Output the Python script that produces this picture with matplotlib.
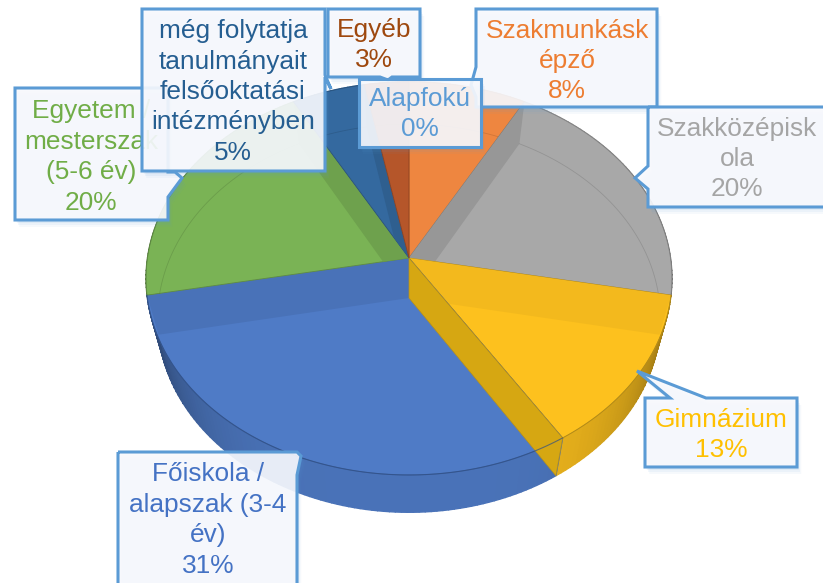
import math
import numpy as np
import matplotlib
matplotlib.use("Agg")
import matplotlib.pyplot as plt
from matplotlib.colors import to_rgb
from matplotlib.patches import Polygon

plt.rcParams['font.family'] = ['Liberation Sans', 'DejaVu Sans']

# Data, clockwise from 12 o'clock
categories = ["Alapfokú", "Szakmunkásk\népző", "Szakközépisk\nola", "Gimnázium",
              "Főiskola /\nalapszak (3-4\név)", "Egyetem /\nmesterszak\n(5-6 év)",
              "még folytatja\ntanulmányait\nfelsőoktatási\nintézményben", "Egyéb"]
values = [0, 8, 20, 13, 31, 20, 5, 3]

face_colors = ["#5B9BD5", "#EE8640", "#A8A8A8", "#FDC11E", "#4F7BC6", "#7AB355", "#34699F", "#B5562A"]
label_colors = ["#5B9BD5", "#ED7D31", "#A5A5A5", "#FFC000", "#4472C4", "#70AD47", "#255E91", "#9E480E"]

# Perspective disc for the upper and lower rim of the pie: centre x, centre y, rx, ry
UPPER = (409, 258, 261.5, 194.4)
LOWER = (409, 298, 250, 192)
PERSP = 0.104
FONT_SIZE = 18.9
BOX_EDGE = "#5B9BD5"


# Maps a pie fraction (0..1 clockwise from top) to picture coordinates
def rim(frac, layer):
    cx, cy, rx, ry = layer
    t = 2 * np.pi * np.asarray(frac)
    x, y = np.sin(t), np.cos(t)
    w = 1 + PERSP * y
    return np.column_stack([cx + rx * x / w, cy - ry * y / w])


def shade(color, factor):
    return tuple(min(1, c * factor) for c in to_rgb(color))


def draw_outer_wall(ax, start, end, color):
    steps = np.linspace(start, end, max(int((end - start) * 300), 2))
    top, bottom = rim(steps, UPPER), rim(steps, LOWER)
    for i in range(len(steps) - 1):
        t = 2 * math.pi * (steps[i] + steps[i + 1]) / 2
        factor = 0.93 - 0.36 * math.sin(t) ** 4
        quad = [top[i], top[i + 1], bottom[i + 1], bottom[i]]
        ax.add_patch(Polygon(quad, closed=True, facecolor=shade(color, factor),
                             edgecolor=shade(color, factor), lw=1.0, zorder=2))


def radial_wall(frac):
    u, l = rim(frac, UPPER)[0], rim(frac, LOWER)[0]
    return [UPPER[:2], u, l, LOWER[:2]]


# Text box with a small pointer, its outline given in picture coordinates
def callout(ax, outline, text, color, center, zorder, linespacing=1.34):
    pts = np.array(outline, dtype=float)
    for off, alpha in [(7, 0.05), (5, 0.07), (3, 0.09)]:
        ax.add_patch(Polygon(pts + [off * 0.6, off], closed=True, facecolor=BOX_EDGE,
                             edgecolor="none", alpha=alpha, zorder=zorder))
    ax.add_patch(Polygon(pts, closed=True, facecolor="#F8F9FD", edgecolor="none",
                         alpha=0.91, zorder=zorder))
    ax.text(center[0], center[1], text, color=color, fontsize=FONT_SIZE, ha="center",
            va="center", linespacing=linespacing, zorder=zorder)
    ax.add_patch(Polygon(pts, closed=True, facecolor="none", edgecolor=BOX_EDGE,
                         lw=2.2, joinstyle="miter", zorder=zorder))


fig = plt.figure(figsize=(8.23, 5.83), dpi=100)
ax = fig.add_axes([0, 0, 1, 1])
ax.set_xlim(0, 823)
ax.set_ylim(583, 0)
ax.axis("off")

fracs = np.cumsum([0] + values) / sum(values)

for i, color in enumerate(face_colors):
    start, end = fracs[i], fracs[i + 1]
    steps = np.linspace(start, end, max(int((end - start) * 300), 2))
    draw_outer_wall(ax, start, end, color)
    outline = np.vstack([[UPPER[:2]], rim(steps, UPPER)])
    face = Polygon(outline, closed=True, facecolor=color, edgecolor=shade(color, 0.78), lw=0.6, zorder=3)
    ax.add_patch(face)
    # inner wall facing the viewer, kept inside the slice's own face
    band_frac = start if end <= 0.5 else end
    band_color = shade(color, 0.96 if color == "#FDC11E" else 0.93 if color == "#4F7BC6" else 0.9)
    band = Polygon(radial_wall(band_frac), closed=True, facecolor=band_color, edgecolor="none", zorder=3)
    ax.add_patch(band)
    band.set_clip_path(face)
    # faint arc of the lower rim on the slices at the back
    if i not in (3, 4):
        arc = rim(steps, LOWER)
        line, = ax.plot(arc[:, 0], arc[:, 1], color="black", alpha=0.12, lw=0.6, zorder=3)
        line.set_clip_path(face)

# front wall between Gimnázium and Főiskola, then the rim of Főiskola running over it
front = fracs[4]
ax.add_patch(Polygon(radial_wall(front), closed=True, facecolor="#D6A712", edgecolor="#B89018", lw=0.5, zorder=4))
steps = np.linspace(fracs[4], fracs[5], 120)
arc = rim(steps, UPPER)
ax.plot(arc[:, 0], arc[:, 1], color="#2F4F86", alpha=0.7, lw=0.8, zorder=4)
steps = np.linspace(fracs[3], fracs[4], 60)
arc = rim(steps, UPPER)
ax.plot(arc[:, 0], arc[:, 1], color="#A8841A", alpha=0.7, lw=0.6, zorder=4)

# pointer outlines go clockwise from the top left corner of each box
outlines = [
    [(359, 79), (481, 79), (481, 147), (359, 147)],
    [(476, 9), (657, 9), (657, 107), (476, 107), (476, 97), (471, 85), (476, 67)],
    [(648, 107), (830, 107), (830, 207), (648, 207), (648, 189), (635, 178), (648, 166)],
    [(645, 398), (670, 398), (637, 371), (706, 398), (797, 398), (797, 467), (645, 467)],
    [(118, 452), (297, 452), (301, 456), (297, 475), (297, 600), (118, 600)],
    [(15, 88), (168, 88), (168, 172), (175, 172), (182, 178), (168, 197), (168, 220), (15, 220)],
    [(142, 9), (325, 9), (325, 75), (331, 89), (325, 77), (325, 171), (142, 171)],
    [(328, 9), (420, 9), (420, 77), (392, 77), (388, 80), (380, 77), (328, 77)],
]
centers = [(420, 114), (567, 61), (737, 159), (721, 435), (208, 520), (91, 157), (233, 92), (374, 45)]
box_order = [5, 4, 1, 2, 3, 7, 0, 6]

for z, i in enumerate(box_order):
    text = f"{categories[i]}\n{values[i]}%"
    callout(ax, outlines[i], text, label_colors[i], centers[i], 10 + z)

fig.savefig("out.png", dpi=100)
